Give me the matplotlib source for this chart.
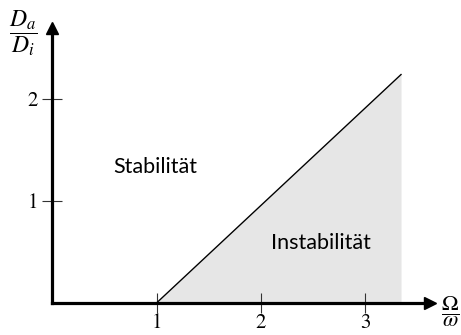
import matplotlib.pyplot as plt
import numpy as np

plt.rcParams['mathtext.fontset'] = 'stix'

# Stability boundary: starts at Omega/omega = 1 and rises linearly
grenze_x = [1.0, 3.34]
grenze_y = [0.0, 2.24]
xticks = [1, 2, 3]
yticks = [1, 2]

W, H = 461, 335
fig = plt.figure(figsize=(W / 100, H / 100), dpi=100)
ax = fig.add_axes([0, 0, 1, 1])
ax.set_xlim(-0.498, 3.914)
ax.set_ylim(-0.314, 2.971)


def px(x, y):
    # pixel position (from top left) -> axes fraction
    return x / W, 1 - y / H


# shaded unstable region below the boundary
ax.fill_between(grenze_x, 0, grenze_y, color='#e6e6e6', lw=0, zorder=1)
ax.plot(grenze_x, grenze_y, color='black', lw=1.0, zorder=3)

# axes through the origin with arrow heads
for side in ['top', 'right']:
    ax.spines[side].set_visible(False)
ax.spines['left'].set_position(('data', 0))
ax.spines['bottom'].set_position(('data', 0))
ax.spines['left'].set_bounds(0, 2.66)
ax.spines['bottom'].set_bounds(0, 3.58)
for side in ['left', 'bottom']:
    ax.spines[side].set_linewidth(2.3)
    ax.spines[side].set_zorder(4)
ax.plot(3.62, 0, marker='>', color='black', ms=9, clip_on=False, zorder=5)
ax.plot(0, 2.70, marker='^', color='black', ms=9, clip_on=False, zorder=5)

ax.set_xticks(xticks)
ax.set_yticks(yticks)
ax.tick_params(direction='inout', length=14, width=0.8, color='#333333',
               labelsize=15)
ax.tick_params(axis='y', pad=3)
ax.tick_params(axis='x', pad=0.5)
for lab in ax.get_xticklabels() + ax.get_yticklabels():
    lab.set_fontfamily('STIXGeneral')

ax.text(*px(23, 33), r'$\dfrac{D_a}{D_i}$', transform=ax.transAxes,
        fontsize=17, ha='center', va='center')
ax.text(*px(450, 312), r'$\dfrac{\Omega}{\omega}$', transform=ax.transAxes,
        fontsize=16, ha='center', va='center')

ax.text(*px(155, 167), 'Stabilität', fontsize=15.5,
        family=['Lato', 'DejaVu Sans'], ha='center', va='center',
        transform=ax.transAxes)
ax.text(*px(321, 243), 'Instabilität', fontsize=15.5,
        family=['Lato', 'DejaVu Sans'], ha='center', va='center',
        transform=ax.transAxes)

fig.savefig('out.png', dpi=100)
